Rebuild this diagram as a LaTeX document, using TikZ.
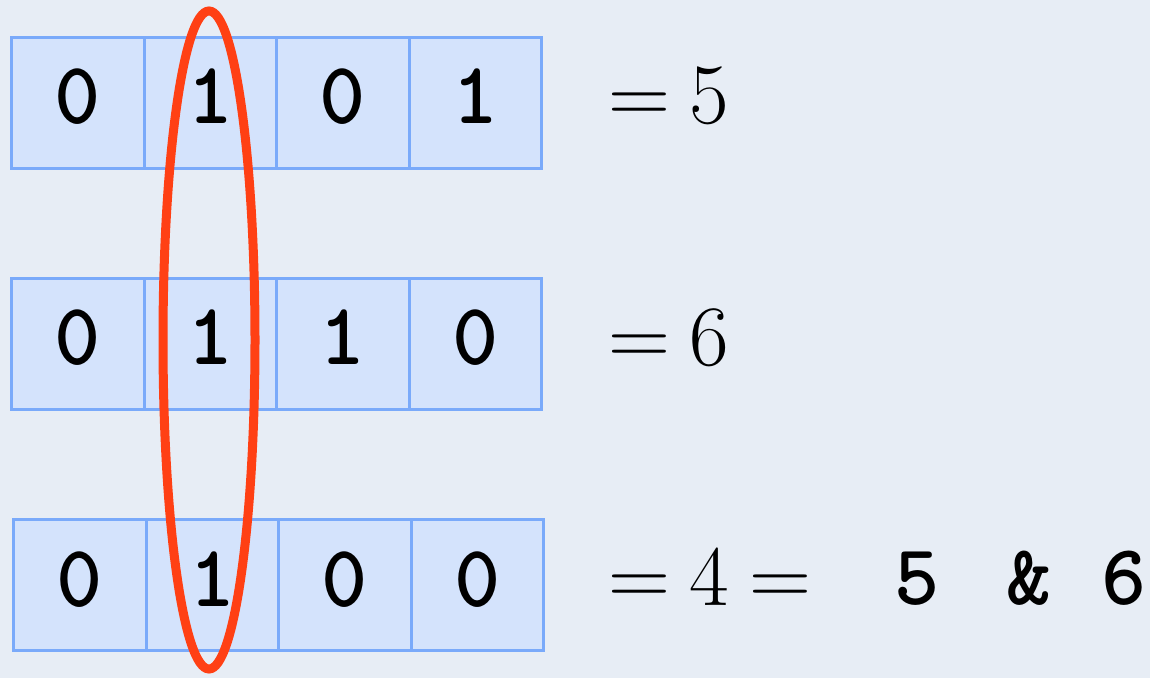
\documentclass[tikz,border=0pt]{standalone}
\usepackage{fontspec}
\usepackage{tikz}
\usetikzlibrary{positioning}

\definecolor{paper}{RGB}{231,237,245}
\definecolor{cellfill}{RGB}{212,227,252}
\definecolor{cellline}{RGB}{122,170,250}
\definecolor{ring}{RGB}{255,64,20}

\newcommand{\eqgap}{\hspace{0.23em}}

\tikzset{
  bitcell/.style={draw=cellline, fill=cellfill, line width=3pt, outer sep=0pt,
    inner sep=0pt, minimum width=132.5pt, minimum height=131pt,
    font=\fontsize{88}{90}\selectfont\ttfamily\bfseries, text depth=12pt},
  eqtext/.style={inner sep=0pt, anchor=base west, font=\fontsize{86}{90}\selectfont},
  andtext/.style={inner sep=0pt, anchor=base west, font=\fontsize{86}{90}\selectfont\ttfamily\bfseries}
}

\begin{document}
\begin{tikzpicture}[x=1pt, y=-1pt]

\fill[paper] (0,0) rectangle (1150,678);
\useasboundingbox (0,0) rectangle (1150,678);

% bit rows
\foreach \r/\yc/\xc/\bits in {
1/102.5/77.75/{0,1,0,1},
2/343.5/77.75/{0,1,1,0},
3/585/79.75/{0,1,0,0}%
}{
    \foreach \b [count=\c] in \bits {
        \node[bitcell] (row\r-\c) at ({\xc+(\c-1)*132.5},\yc) {\b};
    }
}

% values
\node[eqtext] (val1) at (608,123) {=\eqgap5};
\node[eqtext] (val2) at (608,365) {=\eqgap6};
\node[eqtext] (val3) at (608,605) {=\eqgap4\eqgap=};
\node[andtext] (expr) at (894,604) {5\hspace{0.78em}\&\hspace{0.58em}6};

% the common bit
\draw[ring, line width=9pt] (209,340) ellipse (46 and 329);

\end{tikzpicture}
\end{document}
